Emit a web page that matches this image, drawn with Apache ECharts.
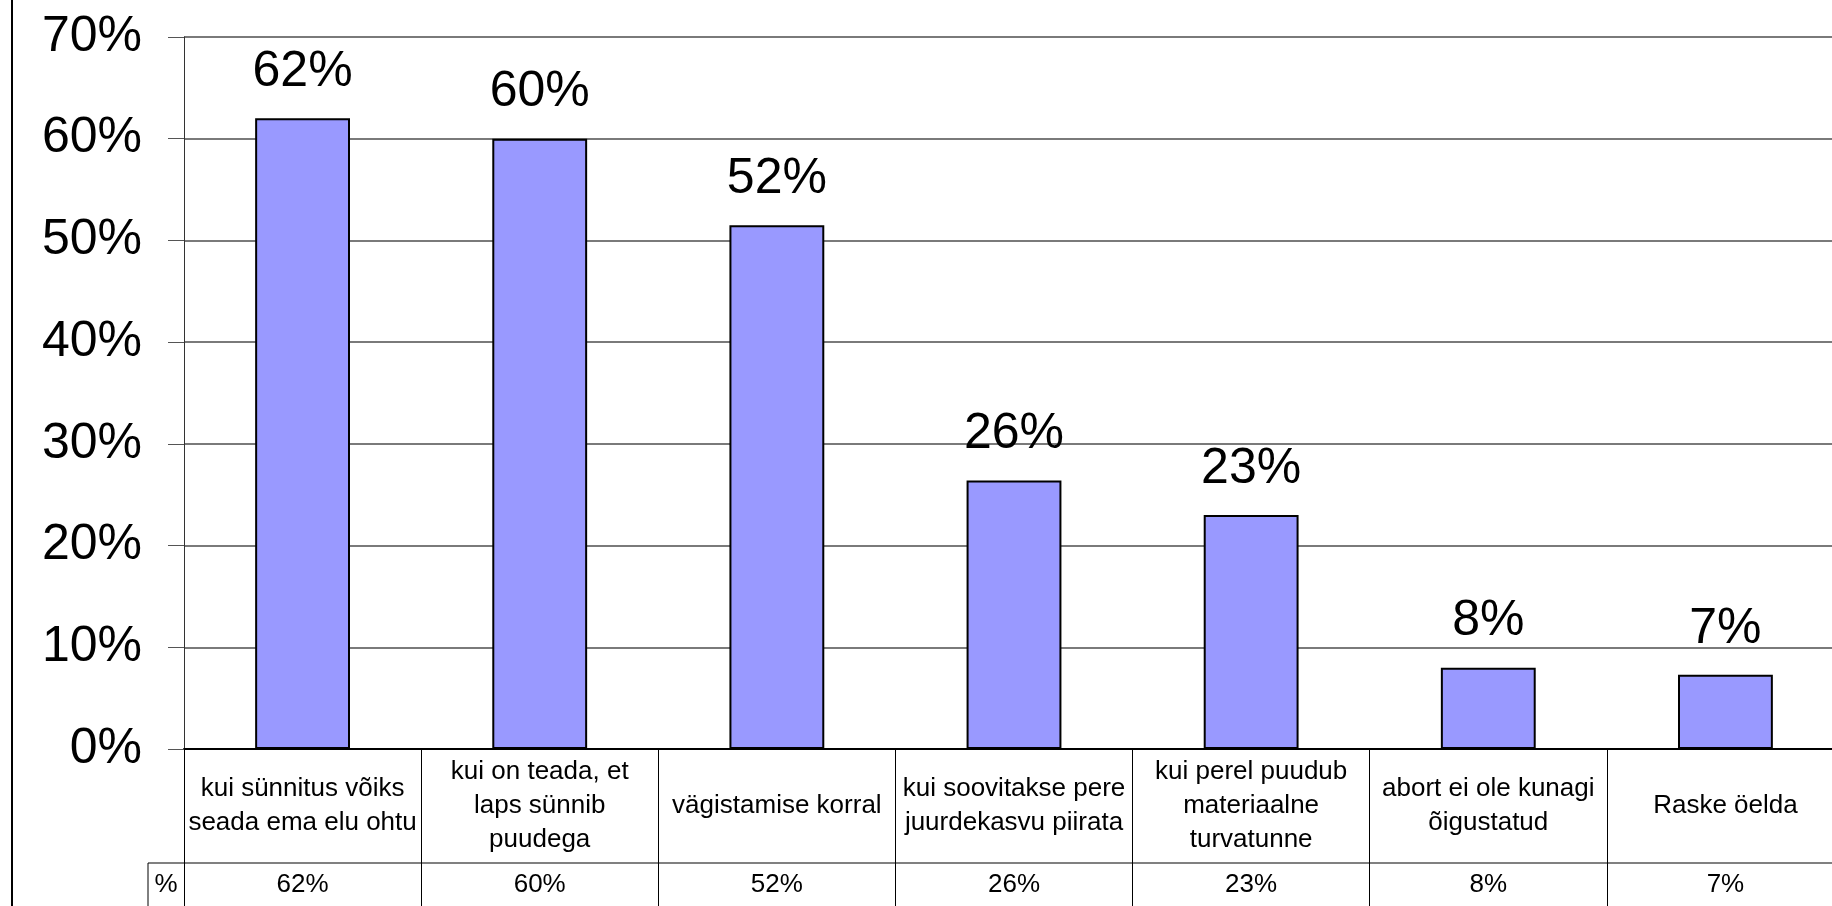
<!DOCTYPE html>
<html>
<head>
<meta charset="utf-8">
<script src="https://cdn.jsdelivr.net/npm/echarts@6/dist/echarts.min.js"></script>
<style>
html,body{margin:0;padding:0;background:#fff;}
#chart{width:1832px;height:906px;}
</style>
</head>
<body>
<div id="chart"></div>
<script>
// ---- data ----
var categories = [
  "kui sünnitus võiks\nseada ema elu ohtu",
  "kui on teada, et\nlaps sünnib\npuudega",
  "vägistamise korral",
  "kui soovitakse pere\njuurdekasvu piirata",
  "kui perel puudub\nmateriaalne\nturvatunne",
  "abort ei ole kunagi\nõigustatud",
  "Raske öelda"
];
var values = [62, 60, 51.5, 26.4, 23, 8, 7.3];
var tableRowLabel = "%";
var yTicks = [0, 10, 20, 30, 40, 50, 60, 70];

// ---- layout ----
var FONT = "'Liberation Sans', Arial, sans-serif";
var W = 1832, H = 906;
var GRID_LEFT = 184, GRID_TOP = 37, GRID_WIDTH = 1660, GRID_BOTTOM = 157;
var ZERO_Y = H - GRID_BOTTOM;      // 749
var HEADER_H = 114;                 // category row height
var ROW_Y = ZERO_Y + HEADER_H;      // 863
var ROW_LEFT = 148;

function pct(v) { return Math.round(v) + '%'; }

var chart = echarts.init(document.getElementById('chart'), null, {renderer: 'canvas'});
chart.setOption({
  backgroundColor: '#ffffff',
  animation: false,
  textStyle: {fontFamily: FONT},
  grid: {
    left: GRID_LEFT, width: GRID_WIDTH, top: GRID_TOP, bottom: GRID_BOTTOM,
    containLabel: false, outerBoundsMode: 'none'
  },
  xAxis: [
    {
      type: 'category',
      data: categories,
      position: 'bottom',
      axisLine: {show: true, lineStyle: {color: '#000', width: 2}},
      axisTick: {show: true, alignWithLabel: false, length: 160, lineStyle: {color: '#000', width: 1}},
      axisLabel: {
        interval: 0, color: '#000', fontSize: 26, fontFamily: FONT, lineHeight: 34,
        margin: HEADER_H / 2, verticalAlign: 'middle', align: 'center'
      },
      splitLine: {show: false}
    },
    {
      type: 'category',
      data: values.map(pct),
      position: 'bottom',
      offset: HEADER_H,
      axisLine: {show: true, lineStyle: {color: '#808080', width: 2}},
      axisTick: {show: false},
      axisLabel: {
        interval: 0, color: '#000', fontSize: 26, fontFamily: FONT,
        margin: 22, verticalAlign: 'middle', align: 'center'
      },
      splitLine: {show: false}
    }
  ],
  yAxis: {
    type: 'value',
    min: yTicks[0],
    max: yTicks[yTicks.length - 1],
    interval: 10,
    axisLine: {show: true, lineStyle: {color: '#333', width: 1}},
    axisTick: {show: true, length: 16, lineStyle: {color: '#555', width: 1}},
    axisLabel: {
      formatter: '{value}%', color: '#000', fontSize: 50, fontFamily: FONT, margin: 42
    },
    splitLine: {show: true, lineStyle: {color: '#7a7a7a', width: 2}}
  },
  series: [{
    type: 'bar',
    xAxisIndex: 0,
    data: values,
    barWidth: '40%',
    itemStyle: {color: '#9999FF', borderColor: '#000', borderWidth: 2},
    label: {
      show: true, position: 'top', distance: 21,
      formatter: function (p) { return pct(p.value); },
      color: '#000', fontSize: 50, fontFamily: FONT
    }
  }],
  graphic: [
    {type: 'line', shape: {x1: 12, y1: 0, x2: 12, y2: H}, style: {stroke: '#000', lineWidth: 2}},
    {type: 'line', shape: {x1: ROW_LEFT, y1: ROW_Y, x2: GRID_LEFT, y2: ROW_Y}, style: {stroke: '#808080', lineWidth: 2}},
    {type: 'line', shape: {x1: ROW_LEFT, y1: ROW_Y, x2: ROW_LEFT, y2: H}, style: {stroke: '#000', lineWidth: 1}},
    {type: 'text', x: (ROW_LEFT + GRID_LEFT) / 2, y: ROW_Y + 22,
     style: {text: tableRowLabel, fill: '#000', font: '26px ' + FONT, textAlign: 'center', textVerticalAlign: 'middle'}}
  ]
});
</script>
</body>
</html>
